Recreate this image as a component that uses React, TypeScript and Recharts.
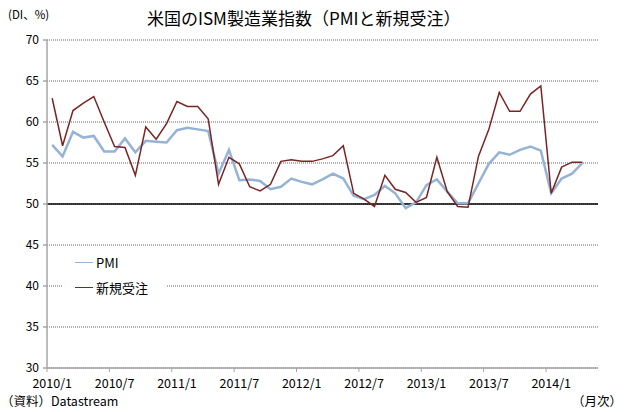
import { LineChart, Line, XAxis, YAxis, CartesianGrid, ReferenceLine, Legend } from "recharts";

// ISM manufacturing, 2010/1 - 2014/4 (monthly)
const PMI = [
  57.2, 55.8, 58.8, 58.1, 58.3, 56.4, 56.4, 58.0, 56.3, 57.7, 57.6, 57.5,
  59.0, 59.3, 59.1, 58.9, 53.7, 56.6, 52.9, 53.0, 52.8, 51.8, 52.1, 53.1,
  52.7, 52.4, 53.0, 53.7, 53.1, 51.0, 50.6, 51.1, 52.2, 51.3, 49.5, 50.2,
  52.3, 53.0, 51.5, 50.1, 50.1, 52.5, 54.9, 56.3, 56.0, 56.6, 57.0, 56.5,
  51.3, 53.1, 53.7, 55.0,
];

const NEW_ORDERS = [
  62.9, 57.1, 61.4, 62.3, 63.1, 60.0, 57.0, 56.9, 53.5, 59.4, 57.9, 59.8,
  62.5, 61.9, 61.9, 60.4, 52.4, 55.7, 54.9, 52.1, 51.6, 52.4, 55.2, 55.4,
  55.2, 55.2, 55.5, 55.9, 57.1, 51.3, 50.6, 49.7, 53.5, 51.8, 51.4, 50.2,
  50.8, 55.7, 51.5, 49.7, 49.6, 55.8, 59.1, 63.6, 61.3, 61.3, 63.4, 64.4,
  51.3, 54.5, 55.1, 55.1,
];

const TICK_IDX = [0, 6, 12, 18, 24, 30, 36, 42, 48];
const TICK_LABELS = ["2010/1", "2010/7", "2011/1", "2011/7", "2012/1", "2012/7", "2013/1", "2013/7", "2014/1"];
const Y_TICKS = [30, 35, 40, 45, 50, 55, 60, 65, 70];
const N_CATS = 53; // axis runs through 2014/5

const W = 625;
const H = 412;
const M = { top: 40, right: 27, left: 0, bottom: 0 };
const Y_W = 47;
const BAND = (W - M.left - M.right - Y_W) / N_CATS;

const FONT = "'Noto Sans CJK JP', 'Noto Sans', sans-serif";

const data = PMI.map((v, i) => ({ i, pmi: v, orders: NEW_ORDERS[i] }));

const XTick = (props: any) => {
  const { x, y, payload } = props;
  const k = TICK_IDX.indexOf(payload.value);
  return (
    <g>
      <line x1={x - BAND / 2} x2={x - BAND / 2} y1={y} y2={y + 4} stroke="#a6a6a6" />
      <text x={x} y={y + 20} textAnchor="middle" fontSize={12.5} fill="#000" fontFamily={FONT}>
        {TICK_LABELS[k]}
      </text>
    </g>
  );
};

const LegendBox = () => (
  <div style={{ background: "#fff", width: 105, height: 50, fontFamily: FONT, fontSize: 13, color: "#000" }}>
    {[
      { name: "PMI", color: "#95b3d7" },
      { name: "新規受注", color: "#7a2424" },
    ].map((d) => (
      <div key={d.name} style={{ display: "flex", alignItems: "center", height: 25 }}>
        <span style={{ display: "inline-block", width: 18, height: 1.5, background: d.color, marginLeft: 13, marginRight: 3 }} />
        <span>{d.name}</span>
      </div>
    ))}
  </div>
);

export default function App() {
  return (
    <div style={{ position: "absolute", left: 0, top: 0, width: W, height: H, background: "#fff", fontFamily: FONT }}>
      <div style={{ position: "absolute", left: 8, top: 6, fontSize: 11.5 }}>(DI、%)</div>
      <div style={{ position: "absolute", left: 147, top: 5, whiteSpace: "nowrap", fontSize: 17 }}>
        米国のISM製造業指数（PMIと新規受注）
      </div>
      <LineChart width={W} height={H} data={data} margin={M}>
        <CartesianGrid horizontal vertical={false} stroke="#666" strokeDasharray="1 1" />
        <XAxis
          dataKey="i"
          type="number"
          domain={[-0.5, N_CATS - 0.5]}
          ticks={TICK_IDX}
          tick={<XTick />}
          tickSize={0}
          tickMargin={0}
          tickLine={false}
          height={44}
          stroke="#a6a6a6"
          strokeWidth={1.5}
          interval={0}
        />
        <YAxis
          domain={[30, 70]}
          ticks={Y_TICKS}
          width={Y_W}
          tickSize={4}
          tickMargin={4}
          stroke="#a6a6a6"
          strokeWidth={1.5}
          tick={{ fill: "#000", fontSize: 12, fontFamily: FONT }}
          interval={0}
        />
        <ReferenceLine y={50} stroke="#000" strokeWidth={1.5} />
        <Legend
          layout="horizontal"
          verticalAlign="middle"
          align="center"
          content={<LegendBox />}
          wrapperStyle={{ position: "absolute", left: 62, top: 250, width: 105 }}
        />
        <Line dataKey="pmi" name="PMI" stroke="#95b3d7" strokeWidth={2.5} dot={false} isAnimationActive={false} />
        <Line dataKey="orders" name="新規受注" stroke="#7a2424" strokeWidth={1.5} dot={false} isAnimationActive={false} />
      </LineChart>
      <div style={{ position: "absolute", left: 1, top: 391, fontSize: 12.5 }}>（資料）Datastream</div>
      <div style={{ position: "absolute", right: 3, top: 391, fontSize: 12.5 }}>（月次）</div>
    </div>
  );
}
